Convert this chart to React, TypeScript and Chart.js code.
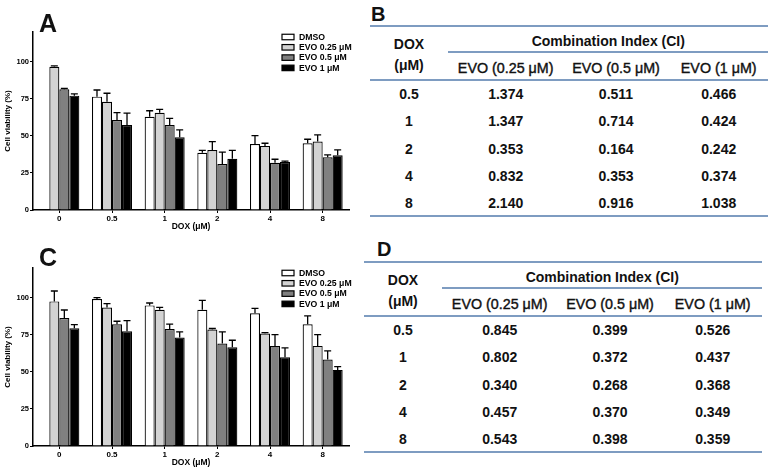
import React, { useEffect, useRef } from "react";
import { Chart, registerables } from "chart.js";

Chart.register(...registerables);

const FONT = "'Liberation Sans', Arial, Helvetica, sans-serif";

// ---------- Bar chart data ----------
const doseLabels = ["0", "0.5", "1", "2", "4", "8"];
const seriesNames = ["DMSO", "EVO 0.25 μM", "EVO 0.5 μM", "EVO 1 μM"];
const seriesColors = ["#ffffff", "#d3d3d3", "#808080", "#000000"];
const yTickValues = [0, 25, 50, 75, 100];

// Panel A
const aDMSO = [null, 76.4, 62.9, 38.6, 44.5, 45.0];
const aEVO025 = [96.6, 73.0, 65.6, 40.5, 43.2, 46.1];
const aEVO05 = [81.4, 60.7, 57.3, 31.0, 31.9, 35.5];
const aEVO1 = [77.1, 57.3, 49.0, 34.6, 32.4, 36.9];
const aDMSOErr = [0, 4.5, 4.0, 1.6, 5.6, 2.7];
const aEVO025Err = [0.6, 5.7, 2.3, 5.6, 1.8, 4.5];
const aEVO05Err = [0.6, 5.0, 4.5, 8.0, 2.3, 1.6];
const aEVO1Err = [1.2, 8.0, 5.0, 5.6, 0.5, 3.6];

// Panel C
const cDMSO = [null, 99.1, 94.8, 91.9, 89.5, 82.1];
const cEVO025 = [97.5, 93.3, 91.9, 78.5, 75.8, 67.5];
const cEVO05 = [86.3, 82.1, 78.9, 69.1, 67.5, 58.3];
const cEVO1 = [79.4, 77.4, 73.1, 66.6, 59.9, 51.3];
const cDMSOErr = [0, 0.9, 1.6, 6.3, 3.3, 5.6];
const cEVO025Err = [7.0, 2.7, 1.6, 0.7, 0.7, 7.6];
const cEVO05Err = [5.4, 2.0, 3.2, 7.8, 7.6, 5.8];
const cEVO1Err = [2.4, 7.1, 3.8, 4.7, 6.3, 2.2];

// ---------- Table data ----------
const ciDoses = ["0.5", "1", "2", "4", "8"];
const ciColumns = ["EVO (0.25 μM)", "EVO (0.5 μM)", "EVO (1 μM)"];
const bEVO025 = ["1.374", "1.347", "0.353", "0.832", "2.140"];
const bEVO05 = ["0.511", "0.714", "0.164", "0.353", "0.916"];
const bEVO1 = ["0.466", "0.424", "0.242", "0.374", "1.038"];
const dEVO025 = ["0.845", "0.802", "0.340", "0.457", "0.543"];
const dEVO05 = ["0.399", "0.372", "0.268", "0.370", "0.398"];
const dEVO1 = ["0.526", "0.437", "0.368", "0.349", "0.359"];

const errorBarPlugin = {
  id: "errorBars",
  afterDatasetsDraw(chart: any) {
    const ctx = chart.ctx;
    const yScale = chart.scales.y;
    ctx.save();
    ctx.strokeStyle = "#000";
    ctx.lineWidth = 1.3;
    chart.data.datasets.forEach((ds: any, i: number) => {
      const meta = chart.getDatasetMeta(i);
      meta.data.forEach((el: any, j: number) => {
        const v = ds.data[j];
        if (v === null || v === undefined) return;
        const e = ds.errors ? ds.errors[j] : 0;
        if (!e) return;
        const yTop = yScale.getPixelForValue(v + e);
        const x = el.x;
        ctx.beginPath();
        ctx.moveTo(x, el.y);
        ctx.lineTo(x, yTop);
        ctx.moveTo(x - 3.5, yTop);
        ctx.lineTo(x + 3.5, yTop);
        ctx.stroke();
      });
    });
    ctx.restore();
  },
};

const legendPlugin = {
  id: "insideLegend",
  afterDraw(chart: any) {
    const ctx = chart.ctx;
    const { right, top } = chart.chartArea;
    const x0 = right - 67;
    let y = top + 5;
    ctx.save();
    ctx.font = `bold 8.7px ${FONT}`;
    ctx.textBaseline = "middle";
    ctx.textAlign = "left";
    chart.data.datasets.forEach((ds: any) => {
      ctx.fillStyle = ds.backgroundColor;
      ctx.fillRect(x0, y - 2.75, 12, 5.5);
      ctx.strokeStyle = "#000";
      ctx.lineWidth = 1.2;
      ctx.strokeRect(x0, y - 2.75, 12, 5.5);
      ctx.fillStyle = "#000";
      ctx.fillText(ds.label, x0 + 17, y + 0.5);
      y += 10.3;
    });
    ctx.restore();
  },
};

function BarPanel(props: { values: (number | null)[][]; errors: number[][]; top: number }) {
  const ref = useRef<HTMLCanvasElement | null>(null);
  useEffect(() => {
    if (!ref.current) return;
    const axisCommon = {
      grid: {
        display: true,
        drawOnChartArea: false,
        drawTicks: true,
        tickLength: 3,
        color: "#000",
        lineWidth: 1,
        offset: false,
      },
      border: { display: true, color: "#000", width: 1.5 },
    };
    const chart = new Chart(ref.current, {
      type: "bar",
      data: {
        labels: doseLabels,
        datasets: props.values.map((vals, i) => ({
          label: seriesNames[i],
          data: vals,
          errors: props.errors[i],
          backgroundColor: seriesColors[i],
          borderColor: "#000",
          borderWidth: 1.2,
          barPercentage: 1,
          categoryPercentage: 0.76,
        })) as any,
      },
      options: {
        animation: false,
        responsive: false,
        maintainAspectRatio: false,
        layout: { padding: { top: 32, right: 11, left: 0, bottom: 0 } },
        plugins: { legend: { display: false }, tooltip: { enabled: false } },
        scales: {
          x: {
            ...axisCommon,
            ticks: { color: "#000", font: { family: FONT, size: 8, weight: "bold" }, padding: 1, maxRotation: 0 },
            title: {
              display: true,
              text: "DOX (μM)",
              color: "#000",
              font: { family: FONT, size: 8.5, weight: "bold" },
              padding: { top: 0, bottom: 0 },
            },
            afterFit: (s: any) => {
              s.height = 22;
            },
          } as any,
          y: {
            ...axisCommon,
            min: 0,
            max: 120,
            ticks: { stepSize: 25, color: "#000", font: { family: FONT, size: 7.5, weight: "bold" }, padding: 1 },
            afterBuildTicks: (s: any) => {
              s.ticks = s.ticks.filter((t: any) => yTickValues.includes(t.value));
            },
            title: {
              display: true,
              text: "Cell viability (%)",
              color: "#000",
              font: { family: FONT, size: 8, weight: "bold" },
              padding: { top: 3, bottom: 0 },
            },
            afterFit: (s: any) => {
              s.width = 33;
            },
          } as any,
        },
      },
      plugins: [errorBarPlugin, legendPlugin],
    });
    return () => chart.destroy();
  }, []);
  return (
    <canvas
      ref={ref}
      width={360}
      height={232}
      style={{ position: "absolute", left: 0, top: props.top, width: 360, height: 232 }}
    />
  );
}

function Txt(props: {
  x: number;
  y: number;
  size: number;
  bold?: boolean;
  semi?: boolean;
  children: any;
  anchor?: string;
}) {
  return (
    <div
      style={{
        position: "absolute",
        left: props.x,
        top: props.y,
        transform: props.anchor === "left" ? "translate(0,-50%)" : "translate(-50%,-50%)",
        fontFamily: FONT,
        fontSize: props.size,
        fontWeight: props.bold ? "bold" : "normal",
        lineHeight: 1,
        whiteSpace: "nowrap",
        color: "#111",
        WebkitTextStroke: props.semi ? "0.4px #111" : undefined,
      }}
    >
      {props.children}
    </div>
  );
}

function Rule(props: { x1: number; x2: number; y: number; h?: number }) {
  const h = props.h ?? 2;
  return (
    <div
      style={{
        position: "absolute",
        left: props.x1,
        top: props.y - h / 2,
        width: props.x2 - props.x1,
        height: h,
        background: "#7e9cc1",
      }}
    />
  );
}

function CITable(props: { dx: number; dy: number; cols: string[][] }) {
  const { dx, dy } = props;
  const colX = [505.7, 616, 718.7];
  const rowY0 = 94.3;
  const rowPitch = 27.1;
  return (
    <>
      <Rule x1={370 + dx} x2={768 + dx} y={25.7 + dy} />
      <Rule x1={448 + dx} x2={768 + dx} y={52.3 + dy} />
      <Rule x1={370 + dx} x2={768 + dx} y={80 + dy} />
      <Rule x1={370 + dx} x2={768 + dx} y={216.3 + dy} />
      <Txt x={409 + dx} y={43.5 + dy} size={14} bold>
        DOX
      </Txt>
      <Txt x={409 + dx} y={65 + dy} size={14} bold>
        (μM)
      </Txt>
      <Txt x={608.3 + dx} y={40.7 + dy} size={14} bold>
        Combination Index (CI)
      </Txt>
      {ciColumns.map((c, i) => (
        <Txt key={c} x={colX[i] + dx} y={68.3 + dy} size={14.3} semi>
          {c}
        </Txt>
      ))}
      {ciDoses.map((d, r) => (
        <React.Fragment key={d}>
          <Txt x={409 + dx} y={rowY0 + r * rowPitch + dy} size={14} bold>
            {d}
          </Txt>
          {props.cols.map((col, c) => (
            <Txt key={c} x={colX[c] + dx} y={rowY0 + r * rowPitch + dy} size={14} bold>
              {col[r]}
            </Txt>
          ))}
        </React.Fragment>
      ))}
    </>
  );
}

export default function App() {
  return (
    <div
      style={{
        position: "absolute",
        left: 0,
        top: 0,
        width: 772,
        height: 471,
        background: "#fff",
        overflow: "hidden",
      }}
    >
      <BarPanel
        top={0}
        values={[aDMSO, aEVO025, aEVO05, aEVO1]}
        errors={[aDMSOErr, aEVO025Err, aEVO05Err, aEVO1Err]}
      />
      <BarPanel
        top={236}
        values={[cDMSO, cEVO025, cEVO05, cEVO1]}
        errors={[cDMSOErr, cEVO025Err, cEVO05Err, cEVO1Err]}
      />
      <Txt x={39} y={22.5} size={25} bold anchor="left">
        A
      </Txt>
      <Txt x={39} y={257} size={25} bold anchor="left">
        C
      </Txt>
      <Txt x={371} y={14} size={20} bold anchor="left">
        B
      </Txt>
      <Txt x={377} y={249} size={20} bold anchor="left">
        D
      </Txt>
      <CITable dx={0} dy={0} cols={[bEVO025, bEVO05, bEVO1]} />
      <CITable dx={-6} dy={236} cols={[dEVO025, dEVO05, dEVO1]} />
    </div>
  );
}
